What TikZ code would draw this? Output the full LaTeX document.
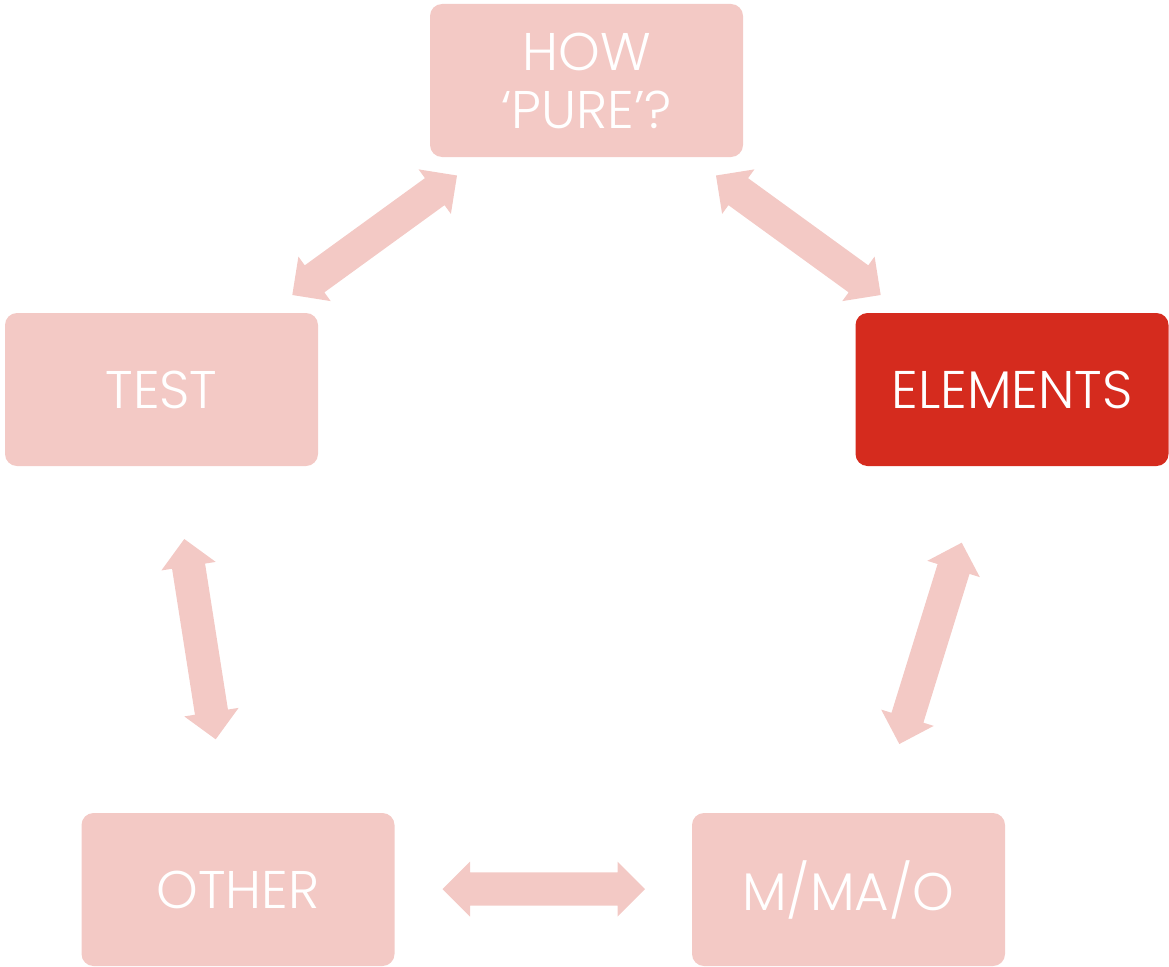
\documentclass[tikz,border=0pt]{standalone}
\usepackage{fontspec}
\setmainfont{Poppins Light}
\usetikzlibrary{calc}
\definecolor{pinkbox}{HTML}{F3C9C5}
\definecolor{redbox}{HTML}{D52B1E}
\newcommand\dblarr[2]{%
 \fill[arrowfill] (#1)
  -- ($(#1)!27.5pt!(#2)!27.5pt!90:(#2)$)
  -- ($(#1)!27.5pt!(#2)!16.7pt!90:(#2)$)
  -- ($(#2)!27.5pt!(#1)!16.7pt!-90:(#1)$)
  -- ($(#2)!27.5pt!(#1)!27.5pt!-90:(#1)$)
  -- (#2)
  -- ($(#2)!27.5pt!(#1)!27.5pt!90:(#1)$)
  -- ($(#2)!27.5pt!(#1)!16.7pt!90:(#1)$)
  -- ($(#1)!27.5pt!(#2)!16.7pt!-90:(#2)$)
  -- ($(#1)!27.5pt!(#2)!27.5pt!-90:(#2)$)
  -- cycle;}
\tikzset{
  box/.style={rectangle, rounded corners=12pt, fill=pinkbox, draw=none,
    minimum width=313pt, minimum height=153pt, inner sep=0pt,
    text=white, align=center, font=\fontsize{53}{58}\selectfont},
  hibox/.style={box, fill=redbox},
  arrowfill/.style={fill=pinkbox}
}
\begin{document}
\begin{tikzpicture}[x=1pt,y=-1pt]
\useasboundingbox (0,0) rectangle (1169,966);
\node[box]   (how)   at (586.5,80.5) {HOW\\‘PURE’?};
\node[box]   (test)  at (161.5,389.5) {TEST};
\node[hibox] (elem)  at (1012,389.5) {ELEMENTS};
\node[box]   (other) at (238,889.5) {OTHER};
\node[box]   (mmao)  at (848.5,889.5) {M/MA/O};
\coordinate (a1) at (292.3,295);
\coordinate (b1) at (457,175.5);
\coordinate (a2) at (880.7,295);
\coordinate (b2) at (716,175.5);
\coordinate (a3) at (184.3,539);
\coordinate (b3) at (215.7,739.3);
\coordinate (a4) at (961.7,542.7);
\coordinate (b4) at (899.3,744);
\coordinate (a5) at (442.5,889);
\coordinate (b5) at (645,889);
\dblarr{a1}{b1}
\dblarr{a2}{b2}
\dblarr{a3}{b3}
\dblarr{a4}{b4}
\dblarr{a5}{b5}
\end{tikzpicture}
\end{document}
